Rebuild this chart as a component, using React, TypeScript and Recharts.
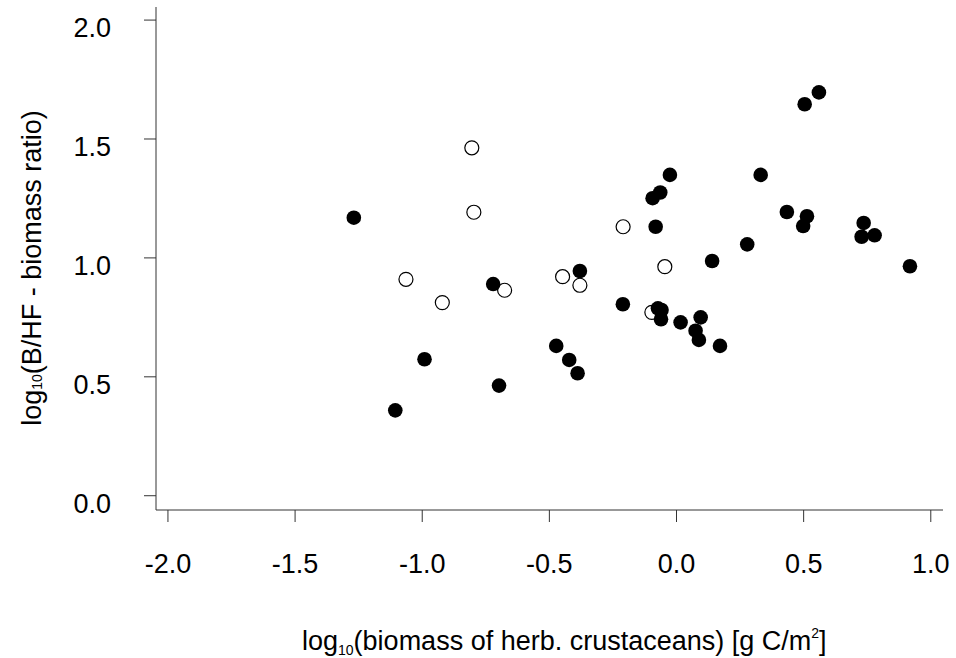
import React from 'react';
import { ScatterChart, Scatter, XAxis, YAxis, Label } from 'recharts';

// axis ticks
const xTicks = [-2.0, -1.5, -1.0, -0.5, 0.0, 0.5, 1.0];
const yTicks = [0.0, 0.5, 1.0, 1.5, 2.0];

// filled circles
const filledX = [
  -1.269, -1.106, -0.991, -0.721, -0.698, -0.473, -0.422, -0.389, -0.38, -0.211,
  -0.094, -0.064, -0.082, -0.026, -0.073, -0.059, -0.061, 0.016, 0.075, 0.095,
  0.088, 0.171, 0.14, 0.278, 0.331, 0.434, 0.498, 0.513, 0.504, 0.56,
  0.728, 0.736, 0.779, 0.918,
];
const filledY = [
  1.169, 0.359, 0.574, 0.89, 0.463, 0.63, 0.571, 0.515, 0.945, 0.805,
  1.251, 1.275, 1.131, 1.349, 0.788, 0.781, 0.742, 0.729, 0.694, 0.75,
  0.655, 0.63, 0.987, 1.057, 1.349, 1.193, 1.134, 1.175, 1.646, 1.696,
  1.089, 1.147, 1.095, 0.965,
];

// open circles
const openX = [-0.805, -0.797, -1.064, -0.921, -0.676, -0.448, -0.38, -0.21, -0.046, -0.097];
const openY = [1.463, 1.192, 0.91, 0.812, 0.864, 0.921, 0.885, 1.131, 0.963, 0.771];

const filledData = filledX.map((x, i) => ({ x, y: filledY[i] }));
const openData = openX.map((x, i) => ({ x, y: openY[i] }));

const FONT = '"Liberation Sans", Arial, sans-serif';

const FilledDot = (props: any) => <circle cx={props.cx} cy={props.cy} r={7.3} fill="#000" />;
const OpenDot = (props: any) => (
  <circle cx={props.cx} cy={props.cy} r={7} fill="#fff" stroke="#000" strokeWidth={1.2} />
);

const XTick = (props: any) => {
  const { x, y, payload } = props;
  return (
    <text x={x} y={y} dy="0.71em" textAnchor="middle" fontSize={27} fontFamily={FONT} fill="#000">
      {payload.value.toFixed(1)}
    </text>
  );
};

const YTick = (props: any) => {
  const { x, y, payload } = props;
  return (
    <text x={x} y={y} dy={17} textAnchor="end" fontSize={27} fontFamily={FONT} fill="#000">
      {payload.value.toFixed(1)}
    </text>
  );
};

const XTitle = () => (
  <text x={302} y={650} fontSize={27} fontFamily={FONT} fill="#000">
    log
    <tspan fontSize={14} dy={5}>10</tspan>
    <tspan dy={-5}>(biomass of herb. crustaceans) [g C/m</tspan>
    <tspan fontSize={14} dy={-12}>2</tspan>
    <tspan dy={12}>]</tspan>
  </text>
);

const YTitle = () => (
  <text
    x={41}
    y={268}
    transform="rotate(-90 41 268)"
    textAnchor="middle"
    fontSize={27}
    fontFamily={FONT}
    fill="#000"
  >
    log
    <tspan fontSize={14} dy={1}>10</tspan>
    <tspan dy={-1}>(B/HF - biomass ratio)</tspan>
  </text>
);

export default function App() {
  return (
    <div style={{ position: 'absolute', left: 0, top: 0, width: 956, height: 658, background: '#fff' }}>
      <ScatterChart width={956} height={658} margin={{ top: 7, right: 13, bottom: 0, left: 0 }}>
        <XAxis
          type="number"
          dataKey="x"
          domain={[-2.047, 1.048]}
          ticks={xTicks}
          allowDataOverflow
          height={148}
          tickSize={12}
          tickMargin={32}
          tick={<XTick />}
          stroke="#333"
          strokeWidth={1}
        >
          <Label content={<XTitle />} />
        </XAxis>
        <YAxis
          type="number"
          dataKey="y"
          domain={[-0.06, 2.055]}
          ticks={yTicks}
          allowDataOverflow
          width={156}
          tickSize={12}
          tickMargin={33}
          tick={<YTick />}
          stroke="#333"
          strokeWidth={1}
        >
          <Label content={<YTitle />} />
        </YAxis>
        <Scatter data={openData} shape={<OpenDot />} isAnimationActive={false} />
        <Scatter data={filledData} shape={<FilledDot />} isAnimationActive={false} />
      </ScatterChart>
    </div>
  );
}
